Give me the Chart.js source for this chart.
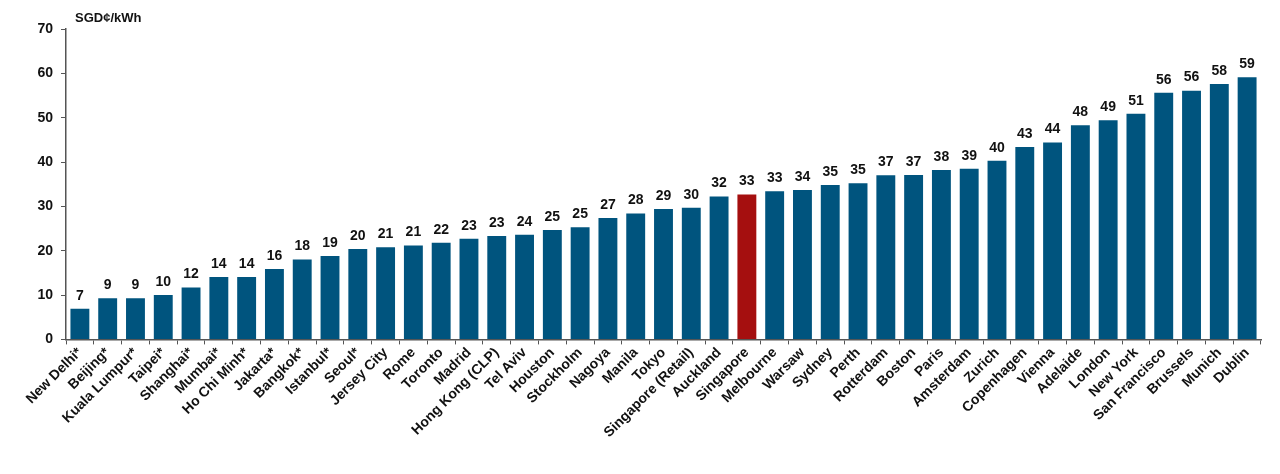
<!DOCTYPE html>
<html>
<head>
<meta charset="utf-8">
<script src="https://cdn.jsdelivr.net/npm/chart.js@4"></script>
<style>
  html, body { margin: 0; padding: 0; background: #fff; }
  #wrap { width: 1280px; height: 474px; }
</style>
</head>
<body>
<div id="wrap"><canvas id="priceChart"></canvas></div>
<script>
const cities = [
    "New Delhi*", "Beijing*", "Kuala Lumpur*", "Taipei*", "Shanghai*", "Mumbai*",
    "Ho Chi Minh*", "Jakarta*", "Bangkok*", "Istanbul*", "Seoul*", "Jersey City",
    "Rome", "Toronto", "Madrid", "Hong Kong (CLP)", "Tel Aviv", "Houston",
    "Stockholm", "Nagoya", "Manila", "Tokyo", "Singapore (Retail)", "Auckland",
    "Singapore", "Melbourne", "Warsaw", "Sydney", "Perth", "Rotterdam", "Boston",
    "Paris", "Amsterdam", "Zurich", "Copenhagen", "Vienna", "Adelaide", "London",
    "New York", "San Francisco", "Brussels", "Munich", "Dublin"
];
const prices = [
    6.9, 9.3, 9.3, 10.0, 11.7, 14.1,
    14.1, 15.9, 18.0, 18.8, 20.4, 20.8,
    21.2, 21.8, 22.7, 23.3, 23.6, 24.7,
    25.3, 27.4, 28.4, 29.4, 29.7, 32.2,
    32.7, 33.4, 33.7, 34.8, 35.2, 37.0, 37.1,
    38.2, 38.5, 40.3, 43.4, 44.4, 48.3, 49.4,
    50.9, 55.6, 56.1, 57.6, 59.1
];
const yTicks = [0, 10, 20, 30, 40, 50, 60, 70];
const unitLabel = "SGD\u00a2/kWh";

const highlight = "Singapore";
const barColors = cities.map(c => c === highlight ? "#a50f0f" : "#00547e");
const boldFont = { family: "'Liberation Sans', Arial, sans-serif", size: 14, weight: "bold" };

// value labels above bars + unit label above the y axis
const valueLabels = {
    id: "valueLabels",
    afterDatasetsDraw(chart) {
        const ctx = chart.ctx;
        const meta = chart.getDatasetMeta(0);
        ctx.save();
        ctx.font = "bold 14px 'Liberation Sans', Arial, sans-serif";
        ctx.fillStyle = "#111";
        ctx.textAlign = "center";
        ctx.textBaseline = "bottom";
        meta.data.forEach((bar, i) => {
            ctx.fillText(Math.round(prices[i]), bar.x, bar.y - 6);
        });
        ctx.font = "bold 13px 'Liberation Sans', Arial, sans-serif";
        ctx.textAlign = "left";
        ctx.fillText(unitLabel, chart.chartArea.left + 9, chart.chartArea.top - 4);
        ctx.restore();
    }
};

new Chart(document.getElementById("priceChart"), {
    type: "bar",
    data: {
        labels: cities,
        datasets: [{
            data: prices,
            backgroundColor: barColors,
            borderWidth: 0,
            barPercentage: 0.68,
            categoryPercentage: 1.0
        }]
    },
    options: {
        responsive: true,
        maintainAspectRatio: false,
        animation: false,
        layout: { padding: { top: 29, right: 19, left: 0, bottom: 33 } },
        plugins: {
            legend: { display: false },
            tooltip: { enabled: false }
        },
        scales: {
            x: {
                grid: {
                    offset: true,
                    drawOnChartArea: false,
                    drawTicks: true,
                    tickLength: 5,
                    color: "#555"
                },
                border: { color: "#555", width: 1.5 },
                ticks: {
                    color: "#111",
                    font: boldFont,
                    maxRotation: 45,
                    minRotation: 45,
                    autoSkip: false,
                    padding: 0
                }
            },
            y: {
                min: 0,
                max: 70,
                afterBuildTicks(scale) {
                    scale.ticks = yTicks.map(v => ({ value: v }));
                },
                afterFit(scale) { scale.width = 66; },
                grid: {
                    drawOnChartArea: false,
                    drawTicks: true,
                    tickLength: 5,
                    color: "#555"
                },
                border: { color: "#555", width: 1.5 },
                ticks: {
                    color: "#111",
                    font: boldFont,
                    padding: 8
                }
            }
        }
    },
    plugins: [valueLabels]
});
</script>
</body>
</html>
